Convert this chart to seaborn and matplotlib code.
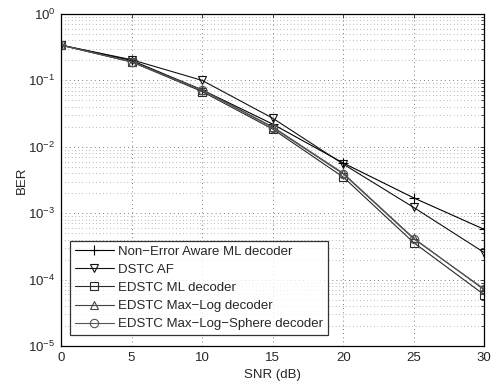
import numpy as np
import pandas as pd
import matplotlib
matplotlib.use("Agg")
import matplotlib.pyplot as plt
import seaborn as sns
from matplotlib.ticker import LogLocator, NullFormatter

snr = [0, 5, 10, 15, 20, 25, 30]
series_names = ["Non\u2212Error Aware ML decoder", "DSTC AF", "EDSTC ML decoder",
                "EDSTC Max\u2212Log decoder", "EDSTC Max\u2212Log\u2212Sphere decoder"]
ber_non_error_aware = [0.34, 0.20, 0.072, 0.022, 0.0057, 0.00170, 0.00057]
ber_dstc_af = [0.34, 0.205, 0.100, 0.027, 0.0055, 0.00122, 0.000255]
ber_edstc_ml = [0.34, 0.19, 0.068, 0.0185, 0.0035, 0.00036, 0.000059]
ber_edstc_maxlog = [0.34, 0.19, 0.072, 0.0200, 0.0040, 0.00042, 0.000070]
ber_edstc_sphere = [0.34, 0.19, 0.071, 0.0195, 0.0039, 0.00041, 0.000072]

all_vals = [ber_non_error_aware, ber_dstc_af, ber_edstc_ml, ber_edstc_maxlog, ber_edstc_sphere]

sns.set_style("white")
plt.rcParams["font.family"] = ["Liberation Sans", "DejaVu Sans"]
plt.rcParams["font.size"] = 9.5
plt.rcParams["xtick.direction"] = "in"
plt.rcParams["ytick.direction"] = "in"

fig = plt.figure(figsize=(4.92, 3.82), dpi=100)
ax = fig.add_axes([61/492, 36/382, (484.3-61)/492, (346-14)/382])

colors = ["#000000", "#111111", "#2a2a2a", "#444444", "#555555"]
markers = ["+", "v", "s", "^", "o"]
for name, vals, c, m in zip(series_names, all_vals, colors, markers):
    d = pd.DataFrame({"SNR": snr, "BER": vals})
    if m == "+":
        sns.lineplot(data=d, x="SNR", y="BER", ax=ax, color=c, label=name,
                     marker=m, markersize=7, markeredgewidth=0.8, linewidth=0.8,
                     markeredgecolor=c)
    else:
        sns.lineplot(data=d, x="SNR", y="BER", ax=ax, color=c, label=name,
                     marker=m, markersize=6, markerfacecolor="none",
                     markeredgecolor=c, markeredgewidth=0.8, linewidth=0.8)

ax.set_yscale("log")
ax.set_xlim(0, 30)
ax.set_ylim(1e-5, 1)
ax.set_xticks(snr)
ax.yaxis.set_major_locator(LogLocator(base=10, numticks=10))
ax.yaxis.set_minor_locator(LogLocator(base=10, subs=np.arange(2, 10), numticks=20))
ax.yaxis.set_minor_formatter(NullFormatter())
ax.grid(True, which="major", axis="both", linestyle=(0, (1, 4)), color="#555555", linewidth=0.6)
ax.grid(True, which="minor", axis="y", linestyle=(0, (1, 4)), color="#777777", linewidth=0.5)
ax.tick_params(which="both", top=True, right=True, length=3, width=0.6, labelsize=9.5, pad=4)
ax.tick_params(which="minor", length=2)
for s in ax.spines.values():
    s.set_linewidth(0.9)
    s.set_color("black")
ax.set_xlabel("SNR (dB)", fontsize=9.5, labelpad=4)
ax.set_ylabel("BER", fontsize=9.5, labelpad=0)

handles, labels = ax.get_legend_handles_labels()
leg = ax.legend(handles, labels, loc="lower left", bbox_to_anchor=(0.021, 0.033),
                borderaxespad=0, frameon=True, fancybox=False, fontsize=9.5,
                handlelength=3.0, handletextpad=0.3, labelspacing=0.45,
                borderpad=0.35)
leg.get_frame().set_edgecolor("black")
leg.get_frame().set_linewidth(0.9)

fig.savefig("out.png", dpi=100)
